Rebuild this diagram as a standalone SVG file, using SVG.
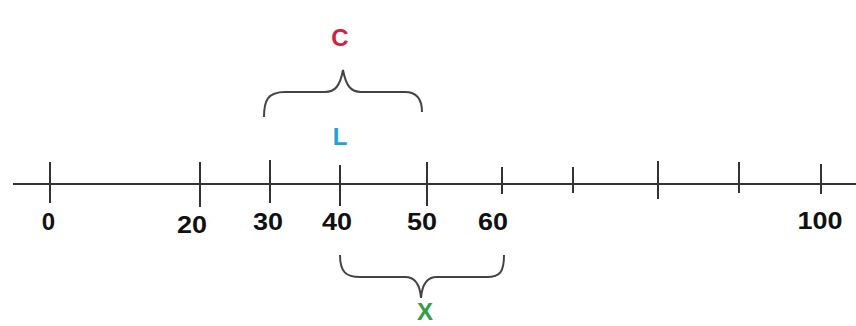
<svg xmlns="http://www.w3.org/2000/svg" width="856" height="326" viewBox="0 0 856 326">
<style>
.ax{stroke:#333;stroke-width:2;fill:none}
.br{stroke:#444;stroke-width:2;fill:none}
.num{font-family:"Liberation Sans",Arial,sans-serif;font-weight:bold;font-size:24px;fill:#111;text-anchor:middle}
.lbl{font-family:"Liberation Sans",Arial,sans-serif;font-weight:bold;font-size:24px;text-anchor:middle}
</style>
<rect width="856" height="326" fill="#fff"/>
<g id="axis">
<line class="ax" x1="13" y1="184" x2="856" y2="184"/>
<line class="ax" x1="50" y1="162" x2="50" y2="203"/>
<line class="ax" x1="200" y1="162" x2="200" y2="207"/>
<line class="ax" x1="270" y1="160" x2="270" y2="203"/>
<line class="ax" x1="340" y1="165" x2="340" y2="206"/>
<line class="ax" x1="427" y1="162" x2="427" y2="206"/>
<line class="ax" x1="502" y1="167" x2="502" y2="194"/>
<line class="ax" x1="573" y1="167" x2="573" y2="193"/>
<line class="ax" x1="658" y1="161" x2="658" y2="199"/>
<line class="ax" x1="739" y1="162" x2="739" y2="193"/>
<line class="ax" x1="821" y1="164" x2="821" y2="194"/>
<text class="num" x="48.5" y="230">0</text>
<text class="num" x="192" y="233" textLength="30" lengthAdjust="spacingAndGlyphs">20</text>
<text class="num" x="268" y="230" textLength="30" lengthAdjust="spacingAndGlyphs">30</text>
<text class="num" x="337" y="230" textLength="30" lengthAdjust="spacingAndGlyphs">40</text>
<text class="num" x="422" y="230" textLength="30" lengthAdjust="spacingAndGlyphs">50</text>
<text class="num" x="493" y="230" textLength="30" lengthAdjust="spacingAndGlyphs">60</text>
<text class="num" x="820" y="229" textLength="45" lengthAdjust="spacingAndGlyphs">100</text>
</g>
<g id="braceC">
<path class="br" d="M264,117 C264,100 268,92 285,92 L325,92 C335,92 340,86 343,70 C346,86 351,92 361,92 L405,92 C418,92 422,100 422,112"/>
<text class="lbl" x="340" y="46" font-size="20" fill="#d42040">C</text>
</g>
<g id="labelL">
<text class="lbl" x="340" y="145" fill="#1ea2d8">L</text>
</g>
<g id="braceX">
<path class="br" d="M340,255 C340,272 346,277 360,277 L405,277 C415,277 420,285 421,298 C422,285 427,277 437,277 L487,277 C500,277 504,272 504,255"/>
<text class="lbl" x="425" y="320" font-size="22" fill="#2fa043">X</text>
</g>
</svg>
